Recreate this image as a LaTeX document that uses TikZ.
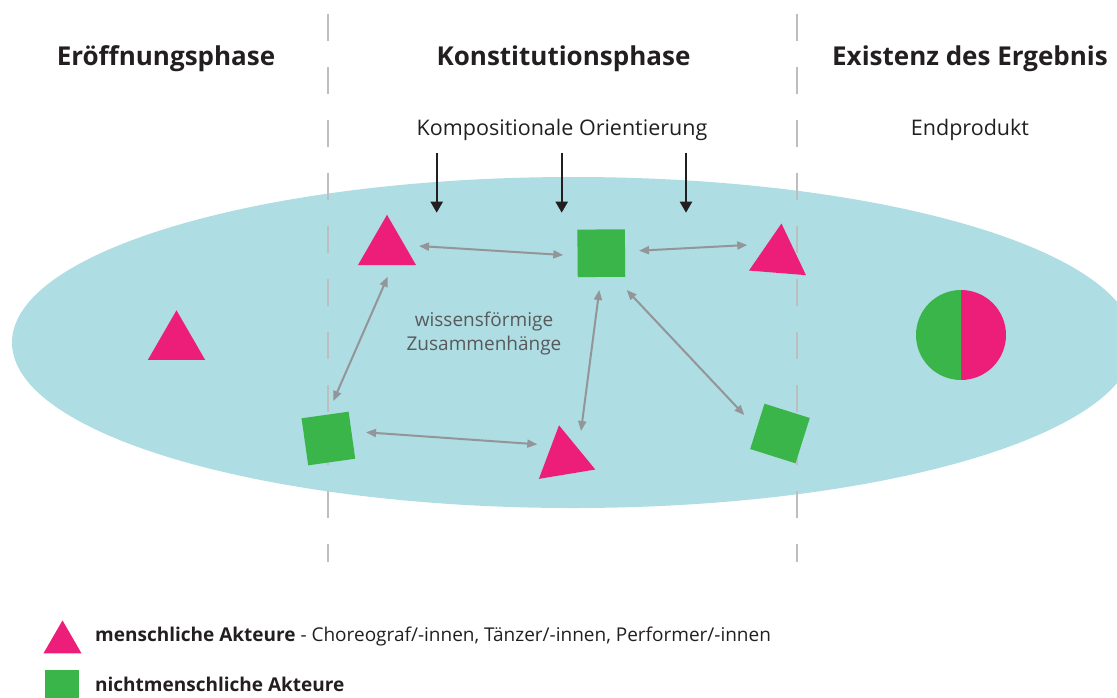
\documentclass[tikz,border=0pt]{standalone}
\usepackage{fontspec}
\setmainfont{Open Sans}
\usetikzlibrary{shapes.geometric,arrows.meta}
\definecolor{ellcol}{HTML}{AEDDE3}
\definecolor{pinkc}{HTML}{ED1E79}
\definecolor{greenc}{HTML}{3AB54A}
\definecolor{arrgray}{HTML}{939598}
\definecolor{dashgray}{HTML}{BCBEC0}
\definecolor{txtdark}{HTML}{231F20}
\definecolor{txtgray}{HTML}{58595B}
\begin{document}
\begin{tikzpicture}[x=1pt,y=-1pt,
  tri/.style={regular polygon, regular polygon sides=3, fill=pinkc, inner sep=0pt, outer sep=0pt, minimum size=#1},
  sq/.style={rectangle, fill=greenc, inner sep=0pt, outer sep=0pt, minimum size=#1},
  link/.style={draw=arrgray, line width=2pt, {Triangle[length=10pt,width=8pt]}-{Triangle[length=10pt,width=8pt]}},
  orient/.style={draw=txtdark, line width=2.2pt, -{Triangle[length=11pt,width=12pt]}},
  divider/.style={draw=dashgray, line width=1.8pt, dash pattern=on 27pt off 26pt},
  heading/.style={font=\fontsize{26}{30}\selectfont\bfseries, text=txtdark, anchor=base, inner sep=0pt},
  sub/.style={font=\fontsize{21.5}{25}\selectfont, text=txtdark, anchor=base, inner sep=0pt},
  legend/.style={font=\fontsize{19}{23}\selectfont, text=txtdark, anchor=base west, inner sep=0pt}]
\useasboundingbox (0,0) rectangle (1117,697);

% field
\node[ellipse, fill=ellcol, inner sep=0pt, minimum width=1122pt, minimum height=331pt] (field) at (573,342.5) {};

% dividers
\coordinate (d1t) at (327.7,13.6);
\coordinate (d1b) at (327.7,562);
\coordinate (d2t) at (796.7,13.6);
\coordinate (d2b) at (796.7,562);
\draw[divider] (d1t) -- (d1b);
\draw[divider] (d2t) -- (d2b);

% headings
\node[heading] (h1) at (166,65) {Eröffnungsphase};
\node[heading] (h2) at (563.5,65) {Konstitutionsphase};
\node[heading] (h3) at (970,65) {Existenz des Ergebnis};
\node[sub] (komp) at (562,135) {Kompositionale Orientierung};
\node[sub] (endp) at (970,135) {Endprodukt};

% orientation arrows
\coordinate (o1s) at (436.7,152.7); \coordinate (o1e) at (436.7,212.7);
\coordinate (o2s) at (561.7,152.7); \coordinate (o2e) at (561.7,212.7);
\coordinate (o3s) at (686,152.7);   \coordinate (o3e) at (686,212.7);
\draw[orient] (o1s) -- (o1e);
\draw[orient] (o2s) -- (o2e);
\draw[orient] (o3s) -- (o3e);

% actors
\node[tri=66pt] (t0) at (176.5,343.3) {};
\node[tri=67pt] (t1) at (387,248.3) {};
\node[tri=66pt, rotate=-4.6] (t2) at (778.8,256.4) {};
\node[tri=66pt, rotate=9.4] (t3) at (564.4,457.9) {};
\node[sq=47.5pt, rotate=0.5] (s1) at (601.3,253.2) {};
\node[sq=47.5pt, rotate=8] (s2) at (328.4,438.5) {};
\node[sq=47.5pt, rotate=-17.5] (s3) at (780,433.5) {};

% result
\node[circle, inner sep=0pt, minimum size=90pt,
  path picture={
    \fill[greenc] (path picture bounding box.south west) rectangle (path picture bounding box.north);
    \fill[pinkc] (path picture bounding box.south) rectangle (path picture bounding box.north east);
  }] (res) at (961,335) {};

% knowledge label
\node[font=\fontsize{19}{23.3}\selectfont, text=txtgray, align=center, inner sep=0pt, anchor=base] (wiss) at (484,350) {wissensförmige\\Zusammenhänge};

% links
\coordinate (a1s) at (419,246);     \coordinate (a1e) at (563.3,255);
\coordinate (a2s) at (639,250.7);   \coordinate (a2e) at (747.3,245);
\coordinate (a3s) at (387.7,276.7); \coordinate (a3e) at (333.3,401);
\coordinate (a4s) at (599.3,290);   \coordinate (a4e) at (581,431);
\coordinate (a5s) at (626.7,290);   \coordinate (a5e) at (744.3,415);
\coordinate (a6s) at (366,432.3);   \coordinate (a6e) at (537.3,444.3);
\draw[link] (a1s) -- (a1e);
\draw[link] (a2s) -- (a2e);
\draw[link] (a3s) -- (a3e);
\draw[link] (a4s) -- (a4e);
\draw[link] (a5s) -- (a5e);
\draw[link] (a6s) -- (a6e);

% legend
\node[tri=44pt] (lt) at (62.5,642.4) {};
\node[sq=34pt] (ls) at (62,687) {};
\node[legend] (l1) at (95,641) {\textbf{menschliche Akteure} - Choreograf/-innen, Tänzer/-innen, Performer/-innen};
\node[legend] (l2) at (95,691) {\textbf{nichtmenschliche Akteure}};
\end{tikzpicture}
\end{document}
